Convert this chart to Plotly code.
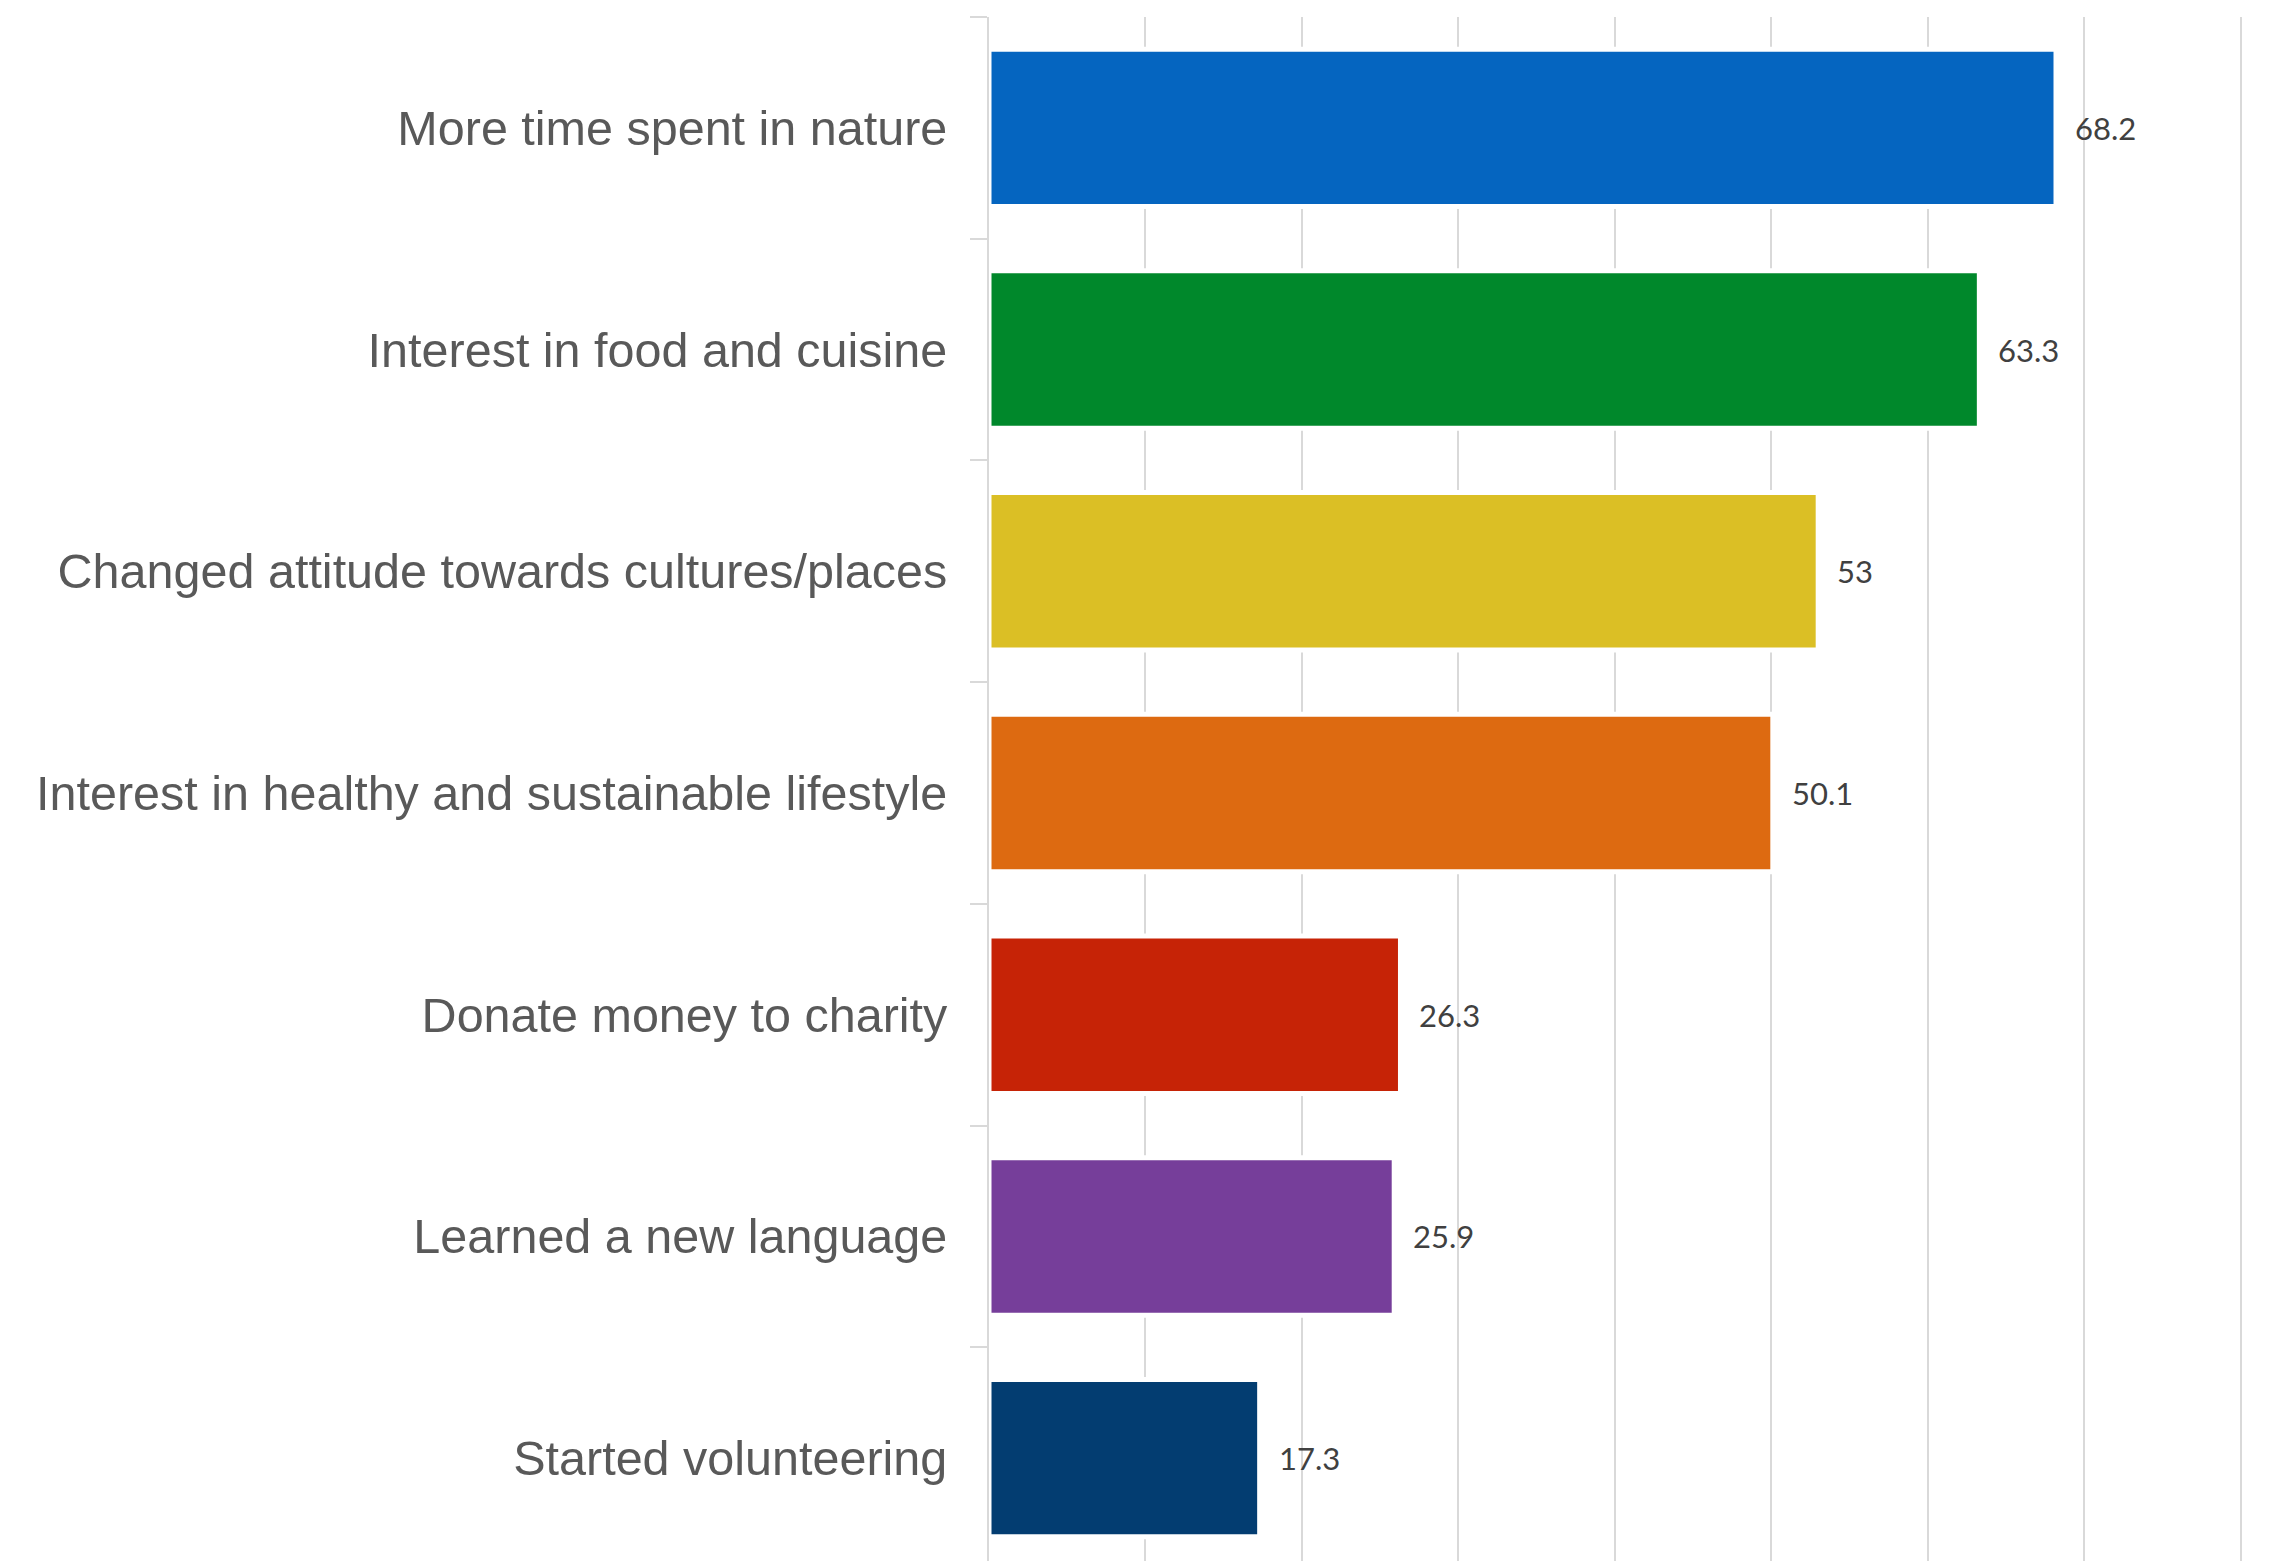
import plotly.graph_objects as go

categories = [
    "More time spent in nature",
    "Interest in food and cuisine",
    "Changed attitude towards cultures/places",
    "Interest in healthy and sustainable lifestyle",
    "Donate money to charity",
    "Learned a new language",
    "Started volunteering",
]
values = [68.2, 63.3, 53, 50.1, 26.3, 25.9, 17.3]
value_labels = ["68.2", "63.3", "53", "50.1", "26.3", "25.9", "17.3"]
colors = ["#0565C0", "#00882B", "#DBBF25", "#DD6A11", "#C62306", "#763E9A", "#033D71"]

fig = go.Figure()
fig.add_trace(go.Bar(
    x=values,
    y=categories,
    orientation="h",
    width=0.71,
    marker=dict(color=colors, line=dict(color="white", width=5)),
    hoverinfo="skip",
))

for v, c, t in zip(values, categories, value_labels):
    fig.add_annotation(
        x=v, y=c, text=t, showarrow=False,
        xanchor="left", yanchor="middle", xshift=17,
        font=dict(family="Lato", size=31, color="#404040"),
    )

fig.update_layout(
    width=2269, height=1561,
    margin=dict(l=981, r=27, t=9, b=0),
    paper_bgcolor="white", plot_bgcolor="white",
    showlegend=False,
)
fig.update_xaxes(
    range=[0, 80.6], dtick=10, tick0=0,
    showgrid=True, gridcolor="#d9d9d9", gridwidth=2,
    showticklabels=False, zeroline=False, ticks="",
)
fig.update_yaxes(
    categoryorder="array", categoryarray=categories,
    range=[6.5, -0.5],
    showgrid=False, showline=True, linecolor="#d9d9d9", linewidth=2,
    ticks="outside", tickson="boundaries", ticklen=17, tickcolor="#d9d9d9", tickwidth=2,
    ticklabelstandoff=30,
    tickfont=dict(family="Liberation Sans", size=48.5, color="#595959"),
)

fig.write_html("out.html")
